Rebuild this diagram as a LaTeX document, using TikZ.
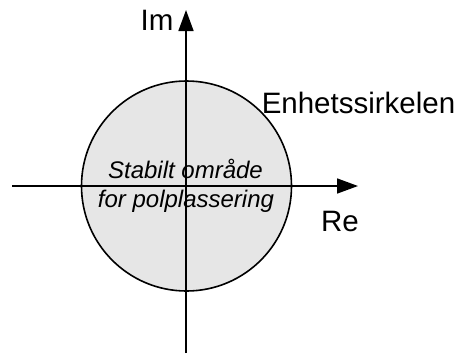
\documentclass[tikz,border=0pt]{standalone}
\usepackage{fontspec}
\setmainfont{Liberation Sans}
\usetikzlibrary{arrows.meta}
\definecolor{discfill}{RGB}{230,230,230}
\tikzset{
  axis/.style={line width=1.6bp, -{Triangle[length=21bp,width=15bp]}},
  disc/.style={circle, draw, line width=1.6bp, fill=discfill, minimum size=210bp, inner sep=0pt},
  lbl/.style={inner sep=0pt, font=\fontsize{29.5bp}{31bp}\selectfont},
  inner/.style={inner sep=0pt, font=\fontsize{24bp}{29bp}\selectfont\itshape, align=center}
}
\begin{document}
\begin{tikzpicture}[x=1bp,y=-1bp]
  \useasboundingbox (0,0) rectangle (459,360);
  % unit circle, stable region
  \node[disc] (c) at (186.5,186) {};
  % axis end points
  \coordinate (xl) at (12,186);
  \coordinate (xr) at (358,186);
  \coordinate (yb) at (186,353);
  \coordinate (yt) at (186,10);
  \draw[axis] (xl) -- (xr);
  \draw[axis] (yb) -- (yt);
  % labels
  \node[lbl, anchor=base] (im) at (157,30) {Im};
  \node[lbl, anchor=base] (re) at (340,231) {Re};
  \node[lbl, anchor=base] (enh) at (358.5,113) {Enhetssirkelen};
  \node[inner, anchor=base] (s1) at (185.5,178) {Stabilt område};
  \node[inner, anchor=base] (s2) at (186,207) {for polplassering};
\end{tikzpicture}
\end{document}
